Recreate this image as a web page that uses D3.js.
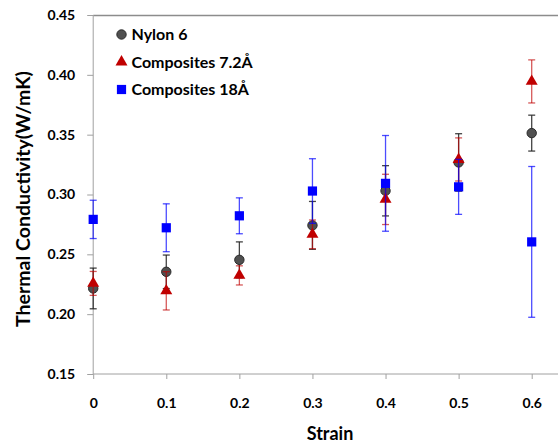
<!DOCTYPE html>
<html><head><meta charset="utf-8">
<script src="https://cdn.jsdelivr.net/npm/d3@7"></script>
<style>
body{margin:0;background:#fff;}
text{font-family:Lato,"Open Sans",sans-serif;font-weight:bold;fill:#000;}
</style></head>
<body><svg id="c" width="558" height="444"></svg>
<script>
const strain = [0, 0.1, 0.2, 0.3, 0.4, 0.5, 0.6];
const nylon = [0.2215, 0.2354, 0.2454, 0.2742, 0.3031, 0.3268, 0.3513];
const nylonErr = [0.017, 0.014, 0.015, 0.020, 0.021, 0.024, 0.015];
const comp72 = [0.2257, 0.2195, 0.2324, 0.2667, 0.2959, 0.3293, 0.3945];
const comp72Err = [0.010, 0.016, 0.008, 0.012, 0.021, 0.018, 0.018];
const comp18 = [0.2792, 0.2722, 0.2822, 0.3029, 0.3093, 0.3064, 0.2604];
const comp18Err = [0.016, 0.020, 0.015, 0.027, 0.040, 0.023, 0.063];
const xTicks = [0, 0.1, 0.2, 0.3, 0.4, 0.5, 0.6];
const xTickLabels = ["0", "0.1", "0.2", "0.3", "0.4", "0.5", "0.6"];
const yTicks = [0.15, 0.20, 0.25, 0.30, 0.35, 0.40, 0.45];
const seriesNames = ["Nylon 6", "Composites 7.2Å", "Composites 18Å"];

const svg = d3.select("#c");
const x = d3.scaleLinear().domain([0, 0.6]).range([93.2, 531.7]);
const y = d3.scaleLinear().domain([0.15, 0.45]).range([374, 15]);

// top border
svg.append("line").attr("x1", 93.2).attr("x2", 558).attr("y1", 15.5).attr("y2", 15.5)
  .attr("stroke", "#8c8c8c").attr("stroke-width", 1.3);

// y axis
const ya = svg.append("g").attr("transform", "translate(93.2,0)")
  .call(d3.axisLeft(y).tickValues(yTicks).tickFormat(d3.format(".2f")).tickSize(6).tickPadding(12));
ya.select(".domain").attr("stroke", "#a0a0a0").attr("d", "M0,374V15");
ya.selectAll(".tick line").attr("stroke", "#a0a0a0");
ya.selectAll("text").style("font-size", "14px");

// x axis
const xa = svg.append("g").attr("transform", "translate(0,374)")
  .call(d3.axisBottom(x).tickValues(xTicks).tickFormat((d, i) => xTickLabels[i]).tickSize(5).tickPadding(19));
xa.select(".domain").attr("stroke", "#a0a0a0").attr("d", "M93.2,0H558");
xa.selectAll(".tick line").attr("stroke", "#a0a0a0");
xa.selectAll("text").style("font-size", "14px");

svg.append("text").attr("x", 330).attr("y", 440).attr("text-anchor", "middle")
  .style("font-size", "18px").text("Strain");
svg.append("text").attr("transform", "translate(30,199) rotate(-90)").attr("text-anchor", "middle")
  .style("font-size", "19.5px").text("Thermal Conductivity(W/mK)");

const series = [
  {vals: nylon, err: nylonErr, barColor: "#222", barOp: 0.85, shape: "circle", fill: "#505050", stroke: "#2a2a2a"},
  {vals: comp72, err: comp72Err, barColor: "#c00000", barOp: 0.65, shape: "triangle", fill: "#c00000", stroke: "#c00000"},
  {vals: comp18, err: comp18Err, barColor: "#0000ff", barOp: 0.7, shape: "square", fill: "#0000ff", stroke: "#0000ff"}
];

function drawMarker(g, shape, fill, stroke, cx, cy) {
  if (shape === "circle") {
    g.append("circle").attr("cx", cx).attr("cy", cy).attr("r", 4.7).attr("fill", fill)
      .attr("stroke", stroke).attr("stroke-width", 1);
  } else if (shape === "triangle") {
    g.append("path").attr("d", d3.symbol(d3.symbolTriangle, 62)()).attr("transform", `translate(${cx},${cy})`)
      .attr("fill", fill);
  } else {
    g.append("rect").attr("x", cx - 4.6).attr("y", cy - 4.6).attr("width", 9.2).attr("height", 9.2).attr("fill", fill);
  }
}

series.forEach(s => {
  const g = svg.append("g");
  strain.forEach((sv, i) => {
    const cx = x(sv), lo = y(s.vals[i] - s.err[i]), hi = y(s.vals[i] + s.err[i]);
    const eb = g.append("g").attr("stroke", s.barColor).attr("stroke-opacity", s.barOp).attr("stroke-width", 1.3);
    eb.append("line").attr("x1", cx).attr("x2", cx).attr("y1", lo).attr("y2", hi);
    eb.append("line").attr("x1", cx - 3.5).attr("x2", cx + 3.5).attr("y1", lo).attr("y2", lo);
    eb.append("line").attr("x1", cx - 3.5).attr("x2", cx + 3.5).attr("y1", hi).attr("y2", hi);
  });
  strain.forEach((sv, i) => drawMarker(g, s.shape, s.fill, s.stroke, x(sv), y(s.vals[i])));
});

// legend
const lg = svg.append("g");
seriesNames.forEach((n, i) => {
  const ly = 34.5 + i * 27.5;
  drawMarker(lg, series[i].shape, series[i].fill, series[i].stroke, 121.5, ly);
  lg.append("text").attr("x", 131.5).attr("y", ly + 5.5).style("font-size", "16px").text(n);
});
</script></body></html>
